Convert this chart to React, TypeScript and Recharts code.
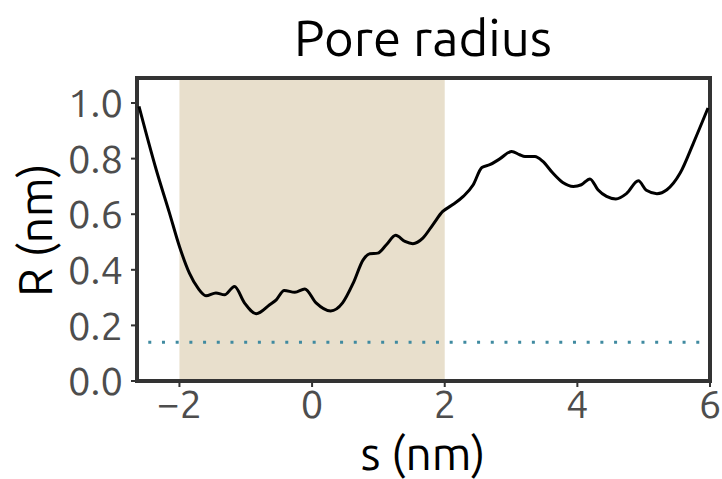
import React from "react";
import {
  LineChart,
  Line,
  XAxis,
  YAxis,
  ReferenceArea,
  ReferenceLine,
} from "recharts";

// position along the pore axis (nm)
const sValues = [
  -2.61, -2.35, -2.15, -2.0, -1.85, -1.72, -1.6, -1.45, -1.32, -1.17, -1.02,
  -0.84, -0.64, -0.54, -0.42, -0.26, -0.11, 0.06, 0.28, 0.46, 0.62, 0.77,
  0.87, 0.99, 1.12, 1.26, 1.4, 1.52, 1.67, 1.82, 1.97, 2.1, 2.28, 2.43, 2.56,
  2.68, 2.83, 3.01, 3.13, 3.21, 3.36, 3.48, 3.63, 3.78, 3.94, 4.06, 4.19,
  4.31, 4.44, 4.58, 4.74, 4.92, 5.04, 5.2, 5.35, 5.55, 5.75, 5.97,
];

// pore radius (nm)
const rValues = [
  0.988, 0.76, 0.604, 0.484, 0.388, 0.334, 0.307, 0.317, 0.31, 0.34, 0.281,
  0.242, 0.274, 0.292, 0.326, 0.319, 0.331, 0.281, 0.252, 0.281, 0.352, 0.436,
  0.458, 0.46, 0.49, 0.524, 0.502, 0.494, 0.514, 0.562, 0.61, 0.631, 0.664,
  0.706, 0.768, 0.778, 0.799, 0.826, 0.814, 0.808, 0.808, 0.79, 0.748, 0.714,
  0.7, 0.706, 0.727, 0.688, 0.664, 0.655, 0.674, 0.72, 0.686, 0.674, 0.688,
  0.748, 0.856, 0.982,
];

const xTicks = [-2, 0, 2, 4, 6];
const yTicks = [0, 0.2, 0.4, 0.6, 0.8, 1.0];
const shadeRange = [-2, 2];
const threshold = 0.139;

const data = sValues.map((s, i) => ({ s, r: rValues[i] }));

const FONT = "Ubuntu, Lato, 'Open Sans', sans-serif";
const tickStyle = { fill: "#4d4d4d", fontSize: 40, fontFamily: FONT };

const fmtX = (v: number) => (v < 0 ? "\u2212" + Math.abs(v) : String(v));

const textBase: React.CSSProperties = {
  position: "absolute",
  textAlign: "center",
  fontFamily: FONT,
  color: "#000",
  lineHeight: 1,
  whiteSpace: "nowrap",
};

export default function App() {
  return (
    <div style={{ position: "relative", width: 722, height: 479, background: "#fff", overflow: "hidden" }}>
      <style>{"body{margin:0}"}</style>
      <LineChart width={722} height={479} data={data} margin={{ top: 78, right: 12, bottom: 0, left: 0 }}>
        <ReferenceArea
          x1={shadeRange[0]}
          x2={shadeRange[1]}
          y1={0}
          y2={1.09}
          fill="#e8dfcc"
          fillOpacity={1}
          stroke="none"
        />
        <XAxis
          dataKey="s"
          type="number"
          domain={[-2.64, 6]}
          ticks={xTicks}
          allowDataOverflow
          tickFormatter={fmtX}
          tick={tickStyle}
          tickLine={{ stroke: "#333", strokeWidth: 2 }}
          tickSize={6}
          tickMargin={3}
          axisLine={false}
          height={98}
        />
        <YAxis
          type="number"
          domain={[0, 1.09]}
          ticks={yTicks}
          allowDataOverflow
          tickFormatter={(v: number) => v.toFixed(1)}
          tick={tickStyle}
          tickLine={{ stroke: "#333", strokeWidth: 2 }}
          tickSize={6}
          tickMargin={8}
          axisLine={false}
          width={137}
        />
        <ReferenceLine
          segment={[
            { x: -2.47, y: threshold },
            { x: 6, y: threshold },
          ]}
          stroke="#3f8aa0"
          strokeWidth={3}
          strokeDasharray="3 10.7"
        />
        <Line
          type="monotone"
          dataKey="r"
          stroke="#000"
          strokeWidth={3}
          dot={false}
          isAnimationActive={false}
        />
        <ReferenceArea
          x1={-2.64}
          x2={6}
          y1={0}
          y2={1.09}
          fill="none"
          stroke="#333"
          strokeWidth={4}
          ifOverflow="visible"
        />
      </LineChart>
      <div style={{ ...textBase, left: 137, width: 572, top: 12, fontSize: 51 }}>Pore radius</div>
      <div style={{ ...textBase, left: 137, width: 572, top: 430, fontSize: 46 }}>s (nm)</div>
      <div
        style={{
          ...textBase,
          left: -65,
          top: 207,
          width: 200,
          height: 46,
          fontSize: 46,
          transform: "rotate(-90deg)",
        }}
      >
        R (nm)
      </div>
    </div>
  );
}
